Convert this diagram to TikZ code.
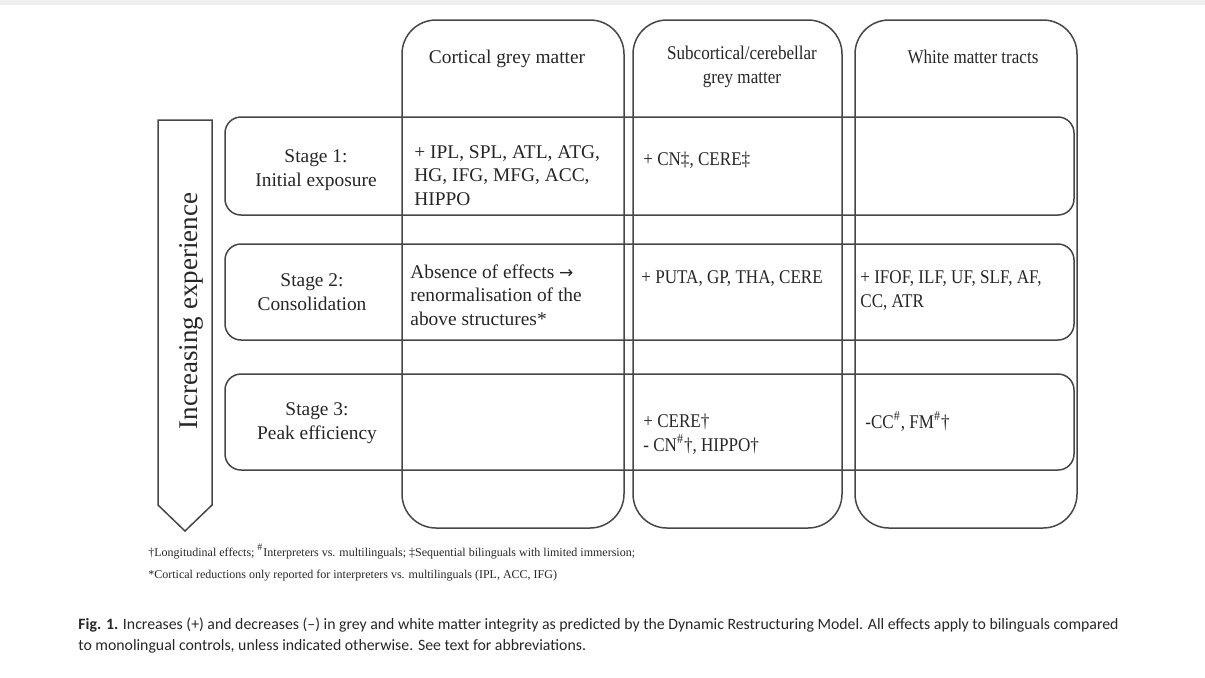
\documentclass[tikz,border=0pt]{standalone}
\usepackage{fontspec}
\setmainfont{Liberation Serif}
\newfontfamily\narrowfont[FakeStretch=0.88]{Liberation Serif}
\newfontfamily\capfont{Carlito}
\newfontfamily\symfont{DejaVu Sans}
\usepackage{tikz}
\usetikzlibrary{positioning}
\definecolor{linegrey}{RGB}{70,70,70}
\tikzset{
    colbox/.style={
        rectangle,
        draw=linegrey,
        line width=0.75pt,
        rounded corners=17pt,
        inner sep=0pt, outer sep=0pt,
        minimum height=254pt
    },
    stagebox/.style={
        rectangle,
        draw=linegrey,
        line width=0.75pt,
        rounded corners=8pt,
        inner sep=0pt, outer sep=0pt,
        minimum width=424.5pt
    }
}

\begin{document}
\begin{tikzpicture}[
        x=0.5pt, y=-0.5pt,
        every node/.style = {
            font=\fontsize{9.7}{11.7}\selectfont,
            text=black!85
        },
        headtext/.style={align=center, anchor=base, inner sep=0pt},
        celltext/.style={align=left, anchor=base west, inner sep=0pt},
        narrow/.style={font=\narrowfont\fontsize{9.7}{11.7}\selectfont},
        notetext/.style={celltext, font=\fontsize{6}{7}\selectfont},
    ]
    \useasboundingbox (0,0) rectangle (1205,677);
    \fill[black!6] (0,0) rectangle (1205,5);

    % columns
    \node[colbox, minimum width=111pt] (cort) at (513,274) {};
    \node[colbox, minimum width=104.5pt] (sub) at (737.5,274) {};
    \node[colbox, minimum width=111pt] (wm) at (966,274) {};

    % stages
    \node[stagebox, minimum height=49pt] (stage1) at (649.5,166) {};
    \node[stagebox, minimum height=48pt] (stage2) at (649.5,292) {};
    \node[stagebox, minimum height=48pt] (stage3) at (649.5,422) {};

    % experience arrow
    \draw[linegrey, line width=0.75pt]
        (158,120) -- (212,120) -- (212,505) -- (185,531) -- (158,505) -- cycle;
    \node[anchor=base, rotate=90, inner sep=0pt,
          font=\fontsize{13.5}{16}\selectfont] (exp) at (197,311) {Increasing experience};

    % headers (multi-line nodes sit on their last baseline)
    \node[headtext] (hcort) at (507,63) {Cortical grey matter};
    \node[headtext, narrow] (hsub) at (742,83) {Subcortical/cerebellar\\grey matter};
    \node[headtext, narrow] (hwm) at (973,63) {White matter tracts};

    \node[headtext] (lab1) at (316,186) {Stage 1:\\Initial exposure};
    \node[headtext] (lab2) at (312,310) {Stage 2:\\Consolidation};
    \node[headtext] (lab3) at (317,439) {Stage 3:\\Peak efficiency};

    % cells
    \node[celltext] (cort1) at (414,205) {+ IPL, SPL, ATL, ATG,\\HG, IFG, MFG, ACC,\\HIPPO};
    \node[celltext, narrow] (sub1) at (643,165) {+ CN‡, CERE‡};
    \node[celltext] (cort2) at (410,325) {Absence of effects {\symfont\fontsize{8.5}{11.7}\selectfont →}\\renormalisation of the\\above structures*};
    \node[celltext, narrow] (sub2) at (641,283) {+ PUTA, GP, THA, CERE};
    \node[celltext, narrow] (wm2) at (860,307) {+ IFOF, ILF, UF, SLF, AF,\\CC, ATR};
    \node[celltext, narrow] (sub3) at (643,451) {+ CERE†\\- CN\textsuperscript{\#}†, HIPPO†};
    \node[celltext, narrow] (wm3) at (865,428) {-CC\textsuperscript{\#}, FM\textsuperscript{\#}†};

    % notes and caption
    \node[notetext] (note1) at (148,556) {†Longitudinal effects; \textsuperscript{\#}Interpreters vs. multilinguals; ‡Sequential bilinguals with limited immersion;};
    \node[notetext] (note2) at (148,578) {*Cortical reductions only reported for interpreters vs. multilinguals (IPL, ACC, IFG)};
    \node[celltext, font=\capfont\fontsize{7.9}{10.5}\selectfont] (caption) at (78,650)
        {\textbf{Fig. 1.} Increases (+) and decreases (–) in grey and white matter integrity as predicted by the Dynamic Restructuring Model. All effects apply to bilinguals compared\\to monolingual controls, unless indicated otherwise. See text for abbreviations.};
\end{tikzpicture}
\end{document}
